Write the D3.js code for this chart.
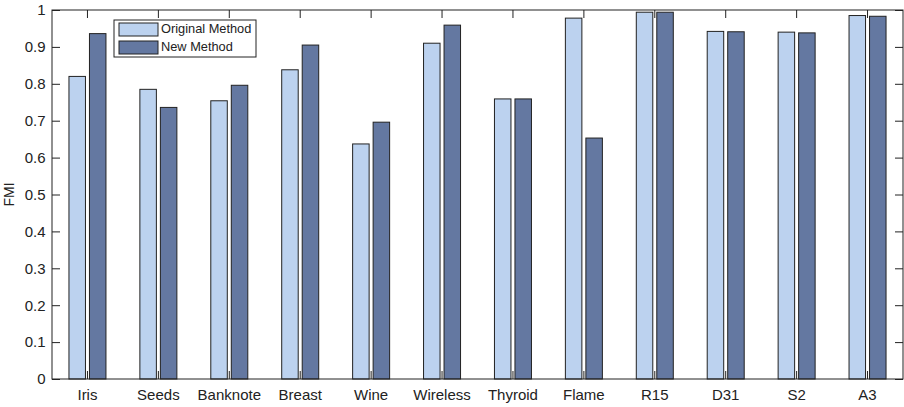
<!DOCTYPE html>
<html>
<head>
<meta charset="utf-8">
<script src="https://cdn.jsdelivr.net/npm/d3@7"></script>
<style>
  body { margin: 0; background: #fff; }
  svg { display: block; font-family: "Liberation Sans", Arial, sans-serif; }
</style>
</head>
<body>
<script>
const categories = ["Iris", "Seeds", "Banknote", "Breast", "Wine", "Wireless", "Thyroid", "Flame", "R15", "D31", "S2", "A3"];
const originalValues = [0.820, 0.785, 0.754, 0.838, 0.637, 0.910, 0.759, 0.978, 0.994, 0.942, 0.940, 0.985];
const newValues = [0.936, 0.736, 0.796, 0.905, 0.696, 0.959, 0.759, 0.653, 0.994, 0.941, 0.938, 0.983];
const seriesNames = ["Original Method", "New Method"];
const yTicks = [0, 0.1, 0.2, 0.3, 0.4, 0.5, 0.6, 0.7, 0.8, 0.9, 1];

const colours = ["#bcd2ef", "#6478a1"];
const margin = { top: 10, right: 1, bottom: 28, left: 52 };
const width = 904 - margin.left - margin.right;
const height = 407 - margin.top - margin.bottom;

const svg = d3.select("body").append("svg")
  .attr("width", 904)
  .attr("height", 407);

const g = svg.append("g")
  .attr("transform", "translate(" + margin.left + "," + margin.top + ")");

const xScale = d3.scaleBand().domain(categories).range([0, width]);
const yScale = d3.scaleLinear().domain([0, 1]).range([height, 0]);

const barW = 16.5;
const gap = 2;

// bars
const series = [originalValues, newValues];
series.forEach((vals, si) => {
  g.selectAll(".bar" + si)
    .data(categories)
    .enter()
    .append("rect")
    .attr("class", "bar" + si)
    .attr("x", (d) => xScale(d) + xScale.bandwidth() / 2 + (si === 0 ? -gap - barW : gap))
    .attr("y", (d, i) => yScale(vals[i]))
    .attr("width", barW)
    .attr("height", (d, i) => height - yScale(vals[i]))
    .attr("fill", colours[si])
    .attr("stroke", "#222")
    .attr("stroke-width", 1);
});

// frame
g.append("rect")
  .attr("width", width)
  .attr("height", height)
  .attr("fill", "none")
  .attr("stroke", "#222")
  .attr("stroke-width", 1);

// axes
const tickLen = 8;
const yAxis = d3.axisLeft(yScale).tickValues(yTicks).tickSize(-tickLen).tickPadding(6.5)
  .tickFormat((d) => (d === 0 || d === 1 ? d3.format("d")(d) : d3.format(".1f")(d)));
const yAxisRight = d3.axisRight(yScale).tickValues(yTicks).tickSize(-tickLen).tickFormat("");
const xAxis = d3.axisBottom(xScale).tickSize(-tickLen).tickPadding(10);
const xAxisTop = d3.axisTop(xScale).tickSize(-tickLen).tickFormat("");

g.append("g").call(yAxis);
g.append("g").attr("transform", "translate(" + width + ",0)").call(yAxisRight);
g.append("g").attr("transform", "translate(0," + height + ")").call(xAxis);
g.append("g").call(xAxisTop);

g.selectAll(".domain").remove();
g.selectAll(".tick line").attr("stroke", "#222");
g.selectAll(".tick text")
  .attr("font-family", "'Liberation Sans', Arial, sans-serif")
  .attr("font-size", "15px")
  .attr("fill", "#222");

// y label
svg.append("text")
  .attr("transform", "rotate(-90)")
  .attr("x", -(margin.top + height / 2))
  .attr("y", 14)
  .attr("text-anchor", "middle")
  .attr("font-size", "14px")
  .attr("fill", "#222")
  .text("FMI");

// legend
const legend = svg.append("g").attr("transform", "translate(114,20)");
legend.append("rect")
  .attr("width", 142)
  .attr("height", 37)
  .attr("fill", "#fff")
  .attr("stroke", "#222")
  .attr("stroke-width", 1);
seriesNames.forEach((name, i) => {
  legend.append("rect")
    .attr("x", 5)
    .attr("y", 3 + i * 18)
    .attr("width", 39)
    .attr("height", 13)
    .attr("fill", colours[i])
    .attr("stroke", "#222");
  legend.append("text")
    .attr("x", 47)
    .attr("y", 10 + i * 18)
    .attr("dominant-baseline", "middle")
    .attr("font-size", "12.8px")
    .attr("fill", "#222")
    .text(name);
});
</script>
</body>
</html>
